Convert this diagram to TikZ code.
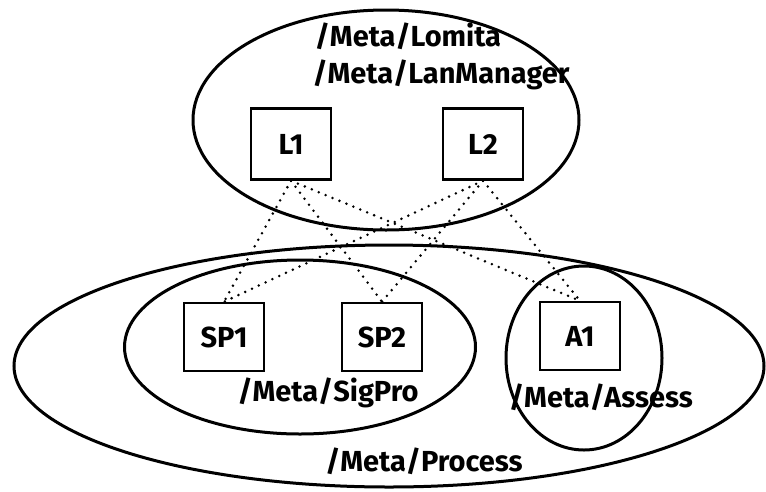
\documentclass[tikz,border=0pt]{standalone}
\usepackage{fontspec}
\setmainfont{Fira Sans}
\usetikzlibrary{shapes.geometric}
\tikzset{
    host-box/.style = {draw, line width=2.4pt, rectangle, inner sep=0pt, minimum width=80pt, minimum height=68pt, font=\bfseries\fontsize{29}{32}\selectfont},
    group-ellipse/.style = {draw, line width=3pt, ellipse, inner sep=0pt},
    group-label/.style = {inner sep=0pt, font=\bfseries\fontsize{29}{32}\selectfont},
    dot-link/.style = {line width=2.8pt, line cap=round, dash pattern=on 0pt off 7.5pt},
}

\begin{document}
\begin{tikzpicture}[x=1pt, y=-1pt]
\useasboundingbox (0,0) rectangle (766,491);
\node[group-ellipse, minimum width=386pt, minimum height=220pt] (lomita) at (386,120) {};
\node[group-ellipse, minimum width=750pt, minimum height=242pt] (process) at (389,366) {};
\node[group-ellipse, minimum width=351pt, minimum height=174pt] (sigpro) at (300,347) {};
\node[group-ellipse, minimum width=156pt, minimum height=184pt] (assess) at (584,358) {};
\node[group-label] (lomita-name) at (408,36) {/Meta/Lomita};
\node[group-label] (lanman-name) at (441,75) {/Meta/LanManager};
\node[group-label] (sigpro-name) at (328,393) {/Meta/SigPro};
\node[group-label] (assess-name) at (601,397) {/Meta/Assess};
\node[group-label] (process-name) at (424,461) {/Meta/Process};
\node[host-box, minimum height=71pt] (L1) at (291,144) {L1};
\node[host-box, minimum height=71pt] (L2) at (483,144) {L2};
\node[host-box] (SP1) at (224,337) {SP1};
\node[host-box] (SP2) at (382,337) {SP2};
\node[host-box] (A1) at (580,336) {A1};
\draw[dot-link] (L1.south) -- (SP1.north);
\draw[dot-link] (L1.south) -- (SP2.north);
\draw[dot-link] (L1.south) -- (A1.north);
\draw[dot-link] (L2.south) -- (SP1.north);
\draw[dot-link] (L2.south) -- (SP2.north);
\draw[dot-link] (L2.south) -- (A1.north);
\end{tikzpicture}
\end{document}
